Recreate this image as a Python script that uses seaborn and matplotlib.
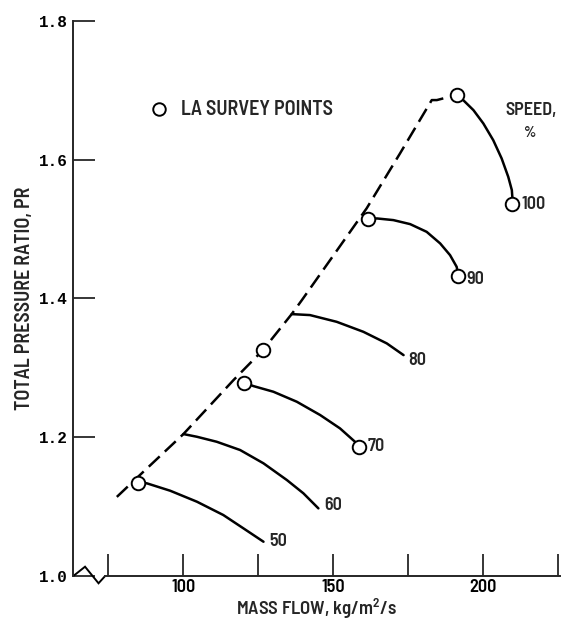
import seaborn as sns
import matplotlib
matplotlib.use('Agg')
import matplotlib.pyplot as plt
import pandas as pd

# speed lines (percent design speed)
speeds = [50, 60, 70, 80, 90, 100]
flow_50 = [84.8, 87.8, 95.6, 104.5, 113.3, 120.0, 126.7]
pr_50 = [1.1344, 1.1336, 1.1229, 1.1071, 1.0879, 1.0687, 1.0494]
flow_60 = [100.0, 104.5, 111.1, 118.9, 126.7, 134.5, 140.0, 145.0]
pr_60 = [1.2046, 1.2007, 1.1935, 1.1816, 1.1624, 1.1383, 1.1192, 1.0975]
flow_70 = [120.3, 123.3, 130.0, 137.8, 145.6, 152.2, 157.2, 158.7]
pr_70 = [1.2786, 1.2738, 1.2656, 1.2512, 1.232, 1.2128, 1.1935, 1.1863]
flow_80 = [136.1, 142.2, 151.1, 160.0, 167.8, 173.4]
pr_80 = [1.3775, 1.3761, 1.3664, 1.352, 1.3353, 1.3184]
flow_90 = [161.7, 164.5, 170.0, 175.6, 181.1, 185.6, 188.9, 191.1, 191.7]
pr_90 = [1.514, 1.5154, 1.513, 1.5072, 1.4961, 1.4794, 1.4625, 1.4457, 1.4323]
flow_100 = [191.1, 193.3, 196.7, 200.0, 203.3, 206.1, 208.3, 209.5, 209.7, 209.5]
pr_100 = [1.693, 1.6859, 1.6715, 1.6523, 1.6282, 1.6019, 1.5754, 1.5562, 1.5442, 1.536]

# stall line (dashed)
surge_flow = [77.8, 86.1, 100.0, 116.7, 126.5, 136.1, 139.5, 161.1, 172.2, 182.8, 184.5, 188.9]
surge_pr = [1.114, 1.148, 1.2046, 1.2824, 1.3256, 1.3775, 1.3977, 1.530, 1.609, 1.686, 1.686, 1.691]

# LA survey points
survey_flow = [84.8, 120.3, 126.5, 158.7, 161.7, 191.7, 191.1, 209.5]
survey_pr = [1.1344, 1.2786, 1.3256, 1.1863, 1.514, 1.4323, 1.693, 1.536]

# speed label anchors
label_flow = [128.7, 146.9, 161.3, 175.0, 194.5, 212.8]
label_pr = [1.0494, 1.1023, 1.1863, 1.3112, 1.428, 1.536]

x_ticks = [75, 100, 125, 150, 175, 200, 225]
x_ticklabels = ['', '100', '', '150', '', '200', '']
y_ticks = [1.0, 1.2, 1.4, 1.6, 1.8]
y_ticklabels = ['1.0', '1.2', '1.4', '1.6', '1.8']

sns.set_style('ticks')
plt.rcParams['font.family'] = ['Barlow Semi Condensed', 'Liberation Sans', 'DejaVu Sans']
plt.rcParams['font.weight'] = 600
plt.rcParams['axes.labelweight'] = 600
plt.rcParams['mathtext.default'] = 'regular'

flows = [flow_50, flow_60, flow_70, flow_80, flow_90, flow_100]
prs = [pr_50, pr_60, pr_70, pr_80, pr_90, pr_100]
lines = pd.concat([pd.DataFrame({'flow': f, 'pr': p, 'speed': s})
                   for f, p, s in zip(flows, prs, speeds)], ignore_index=True)
surge = pd.DataFrame({'flow': surge_flow, 'pr': surge_pr})
survey = pd.DataFrame({'flow': survey_flow, 'pr': survey_pr})

fig = plt.figure(figsize=(5.62, 6.2), dpi=100)
ax = fig.add_axes([0.1305, 0.07097, 0.8667, 0.89516])

sns.lineplot(data=lines, x='flow', y='pr', units='speed', estimator=None, sort=False,
             color='black', lw=1.8, ax=ax, legend=False)
sns.lineplot(data=surge, x='flow', y='pr', estimator=None, sort=False,
             color='black', lw=1.8, ax=ax, legend=False)
ax.lines[-1].set_dashes((6, 2.8))
sns.scatterplot(data=survey, x='flow', y='pr', marker='o', s=95, facecolor='white',
                edgecolor='black', linewidth=1.4, ax=ax, zorder=5, legend=False)

for s, fx, py in zip(speeds, label_flow, label_pr):
    ax.text(fx, py, str(s), ha='left', va='center', fontsize=13)

ax.text(216.0, 1.671, 'SPEED,', ha='center', va='center', fontsize=13)
ax.text(215.6, 1.638, '%', ha='center', va='center', fontsize=11)

# legend entry, drawn like the original
ax.plot([91.7], [1.6725], marker='o', ms=9, mfc='white', mec='black', mew=1.4, ls='none')
ax.text(99.1, 1.6725, 'LA SURVEY POINTS', ha='left', va='center', fontsize=14.5)

ax.set_xlim(63.3, 225.7)
ax.set_ylim(1.0, 1.8)
ax.set_xticks(x_ticks)
ax.set_xticklabels(x_ticklabels, fontsize=13)
ax.set_yticks(y_ticks)
ax.set_yticklabels(y_ticklabels, fontsize=11.5, family='Liberation Mono', weight='bold')
ax.tick_params(axis='both', direction='in', length=16, width=1.1, colors='black')
ax.tick_params(axis='x', pad=2)
ax.tick_params(axis='y', pad=4)

sns.despine(ax=ax)
ax.spines['left'].set_linewidth(1.4)
ax.spines['bottom'].set_linewidth(1.4)
ax.spines['bottom'].set_bounds(73.9, 225.6)

# axis break zigzag
ax.plot([63.3, 67.2, 71.7, 73.9], [1.0, 1.0134, 0.9895, 1.0], color='black', lw=1.4,
        clip_on=False, solid_joinstyle='miter')

ax.set_xlabel('MASS FLOW, kg/m$^2$/s', fontsize=13.5)
ax.xaxis.set_label_coords(0.5, -0.037)
ax.set_ylabel('TOTAL PRESSURE RATIO, PR', fontsize=14.5)
ax.yaxis.set_label_coords(-0.081, 0.5)

fig.savefig('out.png', dpi=100)
